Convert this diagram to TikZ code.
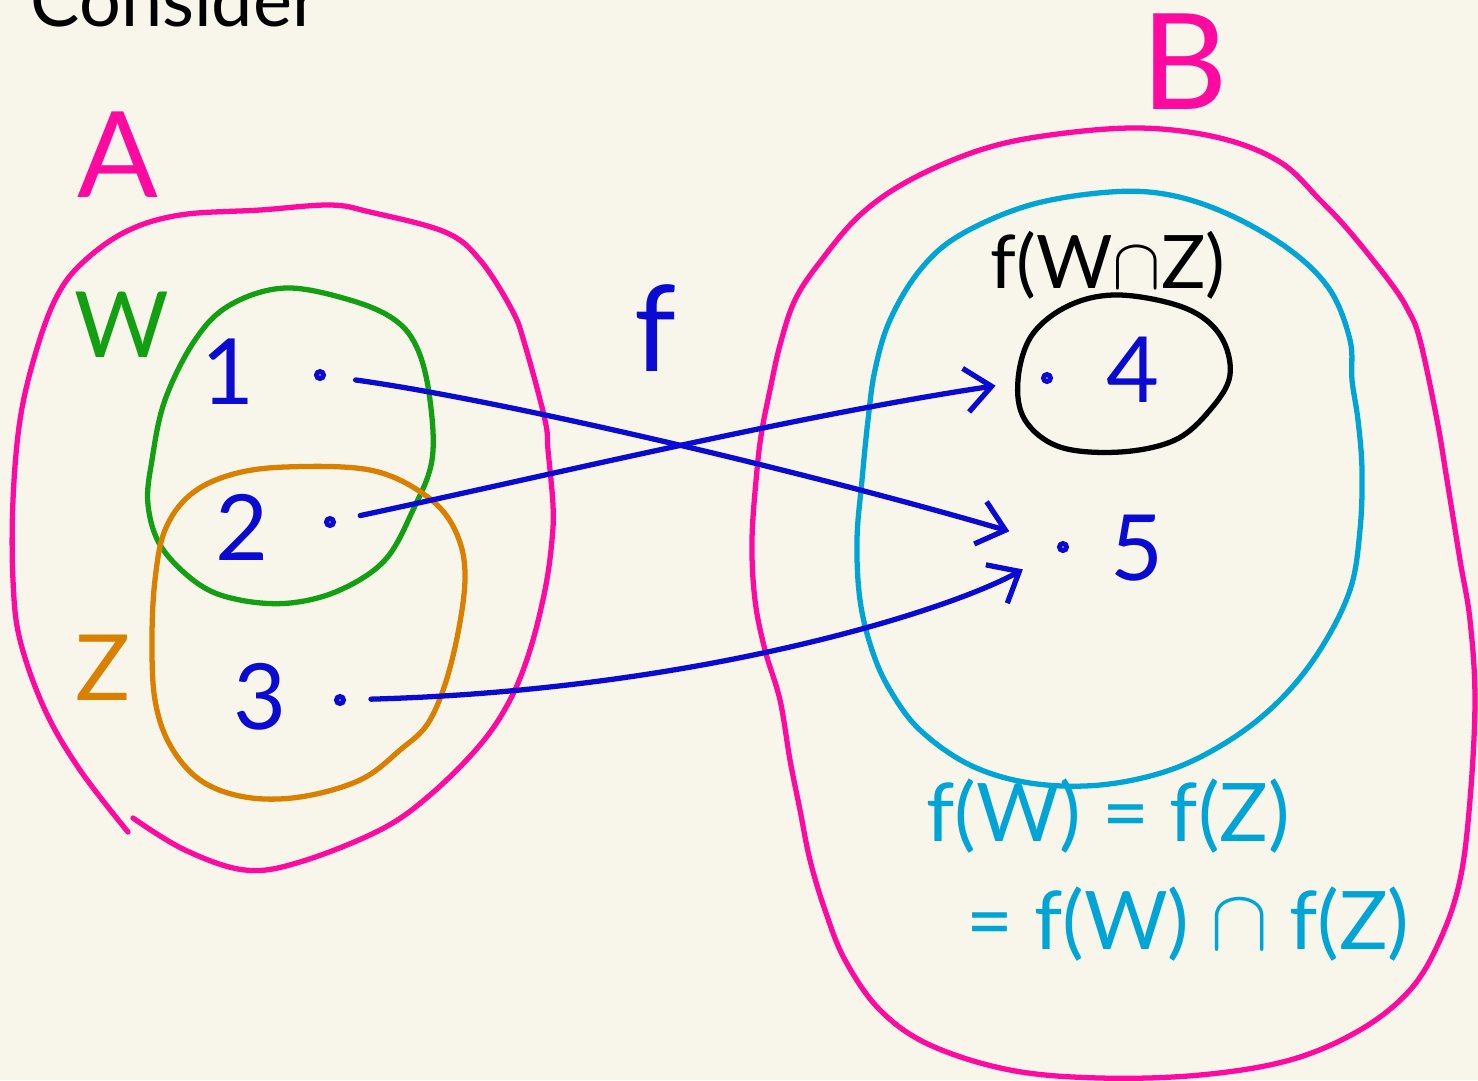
\documentclass[tikz,border=0pt]{standalone}
\usepackage{fontspec}
\setmainfont{Lato}
\usetikzlibrary{arrows.meta,positioning}
\definecolor{paper}{HTML}{F8F6EA}
\definecolor{setpink}{HTML}{FF0AA0}
\definecolor{wgreen}{HTML}{12A012}
\definecolor{zorange}{HTML}{D98000}
\definecolor{mapblue}{HTML}{0A0AD2}
\definecolor{imgcyan}{HTML}{00A5D5}
\tikzset{
  >={Straight Barb[length=2.6mm,width=4.4mm]},
  % mengen
  pen/.style={line width=1.5pt,line cap=round,line join=round},
  setA/.style={pen,draw=setpink},
  setW/.style={pen,draw=wgreen},
  setZ/.style={pen,draw=zorange},
  setimg/.style={pen,draw=imgcyan},
  setcap/.style={pen,draw=black},
  elt/.style={circle,draw=mapblue,fill=paper,line width=1.4pt,inner sep=0pt,minimum size=0.7mm},
  % beschriftung
  lbl/.style={inner sep=0pt,font=\fontsize{26}{30}\selectfont},
  biglbl/.style={inner sep=0pt,font=\fontsize{34}{38}\selectfont},
  eqlbl/.style={inner sep=0pt,text=imgcyan,font=\fontsize{23}{26}\selectfont},
  maparr/.style={->,pen,draw=mapblue},
}
\begin{document}
\begin{tikzpicture}[x=0.1mm,y=-0.1mm]
\fill[paper] (0,0) rectangle (1478,1080);
\useasboundingbox (0,0) rectangle (1478,1080);
  \node[lbl,anchor=base west,font=\fontsize{21}{24}\selectfont] (consider) at (30,26) {Consider};
  % A
  \draw[setA] plot[smooth,tension=0.6] coordinates {(133,818) (185,850) (245,870) (300,862)
    (380,830) (430,795) (480,745) (510,700) (530,650) (545,590) (552,540) (553,505)
    (548,450) (545,420) (525,345) (512,310) (480,260) (445,232) (370,212) (330,205)
    (260,210) (180,215) (125,232) (80,265) (55,300) (35,355) (20,420) (13,500)
    (13,580) (20,640) (45,710) (80,770) (128,832)};
  \node[biglbl,text=setpink] (labA) at (118,155) {A};
  % W and Z
  \draw[setW] plot[smooth cycle,tension=0.6] coordinates {(285,288) (230,305) (195,340)
    (165,400) (152,460) (148,505) (162,548) (200,585) (240,600) (290,603) (340,590)
    (385,560) (413,510) (432,460) (430,400) (418,350) (395,320) (350,300)};
  \node[lbl,text=wgreen] (labW) at (122,325) {W};
  \draw[setZ] plot[smooth cycle,tension=0.6] coordinates {(285,467) (230,475) (190,495)
    (165,530) (155,580) (152,640) (155,700) (170,745) (200,780) (245,797) (300,797)
    (360,780) (400,750) (430,720) (452,660) (465,580) (455,530) (425,495) (370,470)};
  \node[lbl,text=zorange] (labZ) at (103,668) {Z};
  % elements of A
  \node[elt] (d1) at (320,375) {};
  \node[elt] (d2) at (330,522) {};
  \node[elt] (d3) at (340,700) {};
  \node[lbl,text=mapblue] (n1) at (228,372) {1};
  \node[lbl,text=mapblue] (n2) at (242,527) {2};
  \node[lbl,text=mapblue] (n3) at (260,697) {3};
  % B
  \draw[setA] plot[smooth cycle,tension=0.6] coordinates {(1140,128) (1050,135) (980,150)
    (910,180) (860,215) (820,262) (795,300) (780,345) (770,390) (762,430) (757,470)
    (752,540) (755,600) (765,650) (780,700) (790,760) (800,810) (810,860) (825,910)
    (845,960) (880,1010) (930,1045) (1010,1070) (1100,1078) (1200,1075) (1290,1060)
    (1360,1030) (1410,990) (1440,940) (1460,880) (1470,800) (1475,700) (1470,620)
    (1460,560) (1447,480) (1437,420) (1420,340) (1408,310) (1390,282) (1350,232)
    (1320,200) (1280,162) (1220,138)};
  \node[biglbl,text=setpink,font=\fontsize{38}{40}\selectfont] (labB) at (1185,62) {B};
  \draw[setimg] plot[smooth cycle,tension=0.6] coordinates {(1110,192) (1030,205) (960,235)
    (920,270) (890,320) (875,370) (868,420) (862,480) (857,540) (860,600) (872,650)
    (890,690) (920,730) (970,765) (1030,783) (1100,785) (1170,770) (1230,740)
    (1280,700) (1320,650) (1350,590) (1360,530) (1362,470) (1358,420) (1352,380)
    (1350,340) (1330,290) (1290,250) (1230,215) (1170,195)};
  \draw[setcap] plot[smooth cycle,tension=0.6] coordinates {(1120,295) (1070,305) (1032,335)
    (1018,380) (1025,420) (1060,447) (1120,452) (1175,440) (1210,410) (1230,375)
    (1220,335) (1185,308)};
  \node[lbl,font=\fontsize{21}{24}\selectfont] (labcap) at (1108,265) {f(W$\cap$Z)};
  % elements of B
  \node[elt] (d4) at (1047,378) {};
  \node[elt] (d5) at (1063,547) {};
  \node[lbl,text=mapblue] (n4) at (1133,370) {4};
  \node[lbl,text=mapblue] (n5) at (1137,548) {5};
  % the map
  \node[biglbl,text=mapblue] (labf) at (655,328) {f};
  \draw[maparr,shorten <=3mm,shorten >=5mm] (d1) .. controls (500,400) and (800,470) .. (d5);
  \draw[maparr,shorten <=2.5mm,shorten >=4.6mm] (d2) .. controls (550,475) and (800,415) .. (d4);
  \draw[maparr,shorten <=2.5mm,shorten >=4mm] (d3) .. controls (700,690) and (950,610) .. (d5);
  % images
  \node[eqlbl] (eq1) at (1108,816) {f(W) = f(Z)};
  \node[eqlbl] (eq2) at (1188,924) {= f(W) $\cap$ f(Z)};
\end{tikzpicture}
\end{document}
